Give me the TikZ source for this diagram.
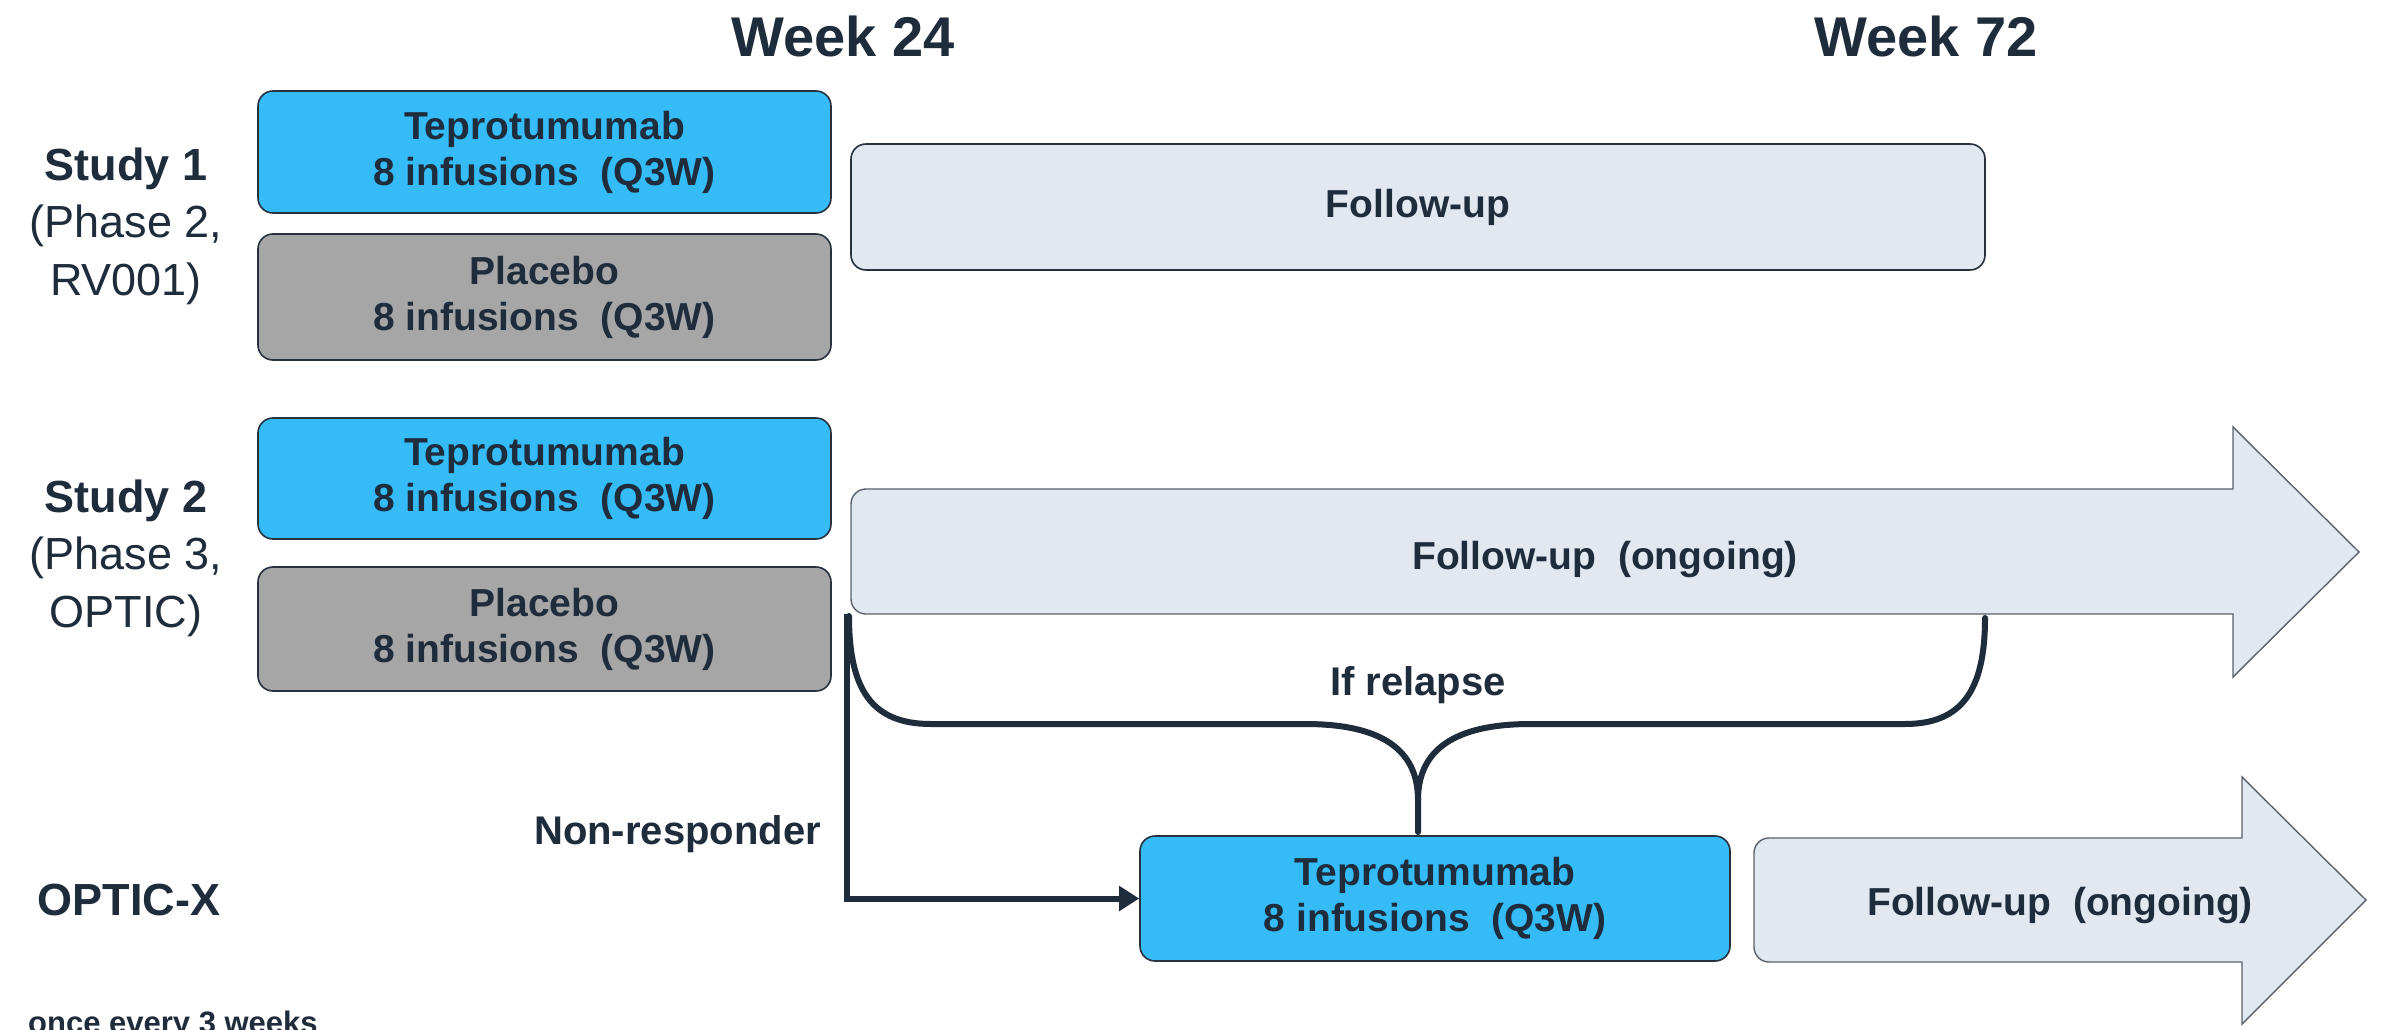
\documentclass[tikz,border=0pt]{standalone}
\usepackage{fontspec}
\setmainfont{Liberation Sans}
\usetikzlibrary{arrows.meta}
\definecolor{tealc}{RGB}{53,188,247}
\definecolor{greyc}{RGB}{166,166,166}
\definecolor{fuc}{RGB}{226,232,240}
\definecolor{txtc}{RGB}{30,44,60}
\definecolor{linec}{RGB}{40,50,62}
\definecolor{arrline}{RGB}{90,98,108}
\newcommand\myboxfont{\bfseries\fontsize{39}{46}\selectfont}
\newcommand\mylabfont{\fontsize{45}{54}\selectfont}
\tikzset{
  box/.style={draw=linec, line width=1.6pt, rounded corners=15pt, inner sep=0pt,
    align=center, font=\myboxfont, text=txtc},
  tealbox/.style={box, fill=tealc},
  greybox/.style={box, fill=greyc},
  fubox/.style={box, fill=fuc},
  fuarrow/.style={draw=arrline, line width=1.4pt, fill=fuc},
  lab/.style={inner sep=0pt, anchor=base, text=txtc},
  conn/.style={draw=txtc, line width=6pt},
}
\begin{document}
\begin{tikzpicture}[x=1pt,y=-1pt]
\useasboundingbox (0,0) rectangle (2382,1030);
\clip (0,0) rectangle (2382,1030);
\fill[white] (0,0) rectangle (2382,1030);

% week headers
\node[lab, font=\bfseries\fontsize{56}{60}\selectfont] (w24) at (843,57) {Week 24};
\node[lab, font=\bfseries\fontsize{56}{60}\selectfont] (w72) at (1926,57) {Week 72};

% study labels
\node[lab, font=\bfseries\mylabfont] (s1a) at (126,180) {Study 1};
\node[lab, font=\mylabfont] (s1b) at (126,237) {(Phase 2,};
\node[lab, font=\mylabfont] (s1c) at (126,295) {RV001)};
\node[lab, font=\bfseries\mylabfont] (s2a) at (126,512) {Study 2};
\node[lab, font=\mylabfont] (s2b) at (126,569) {(Phase 3,};
\node[lab, font=\mylabfont] (s2c) at (126,627) {OPTIC)};
\node[lab, font=\bfseries\mylabfont] (ox) at (129,915) {OPTIC-X};

% study 1
\node[tealbox, minimum width=573pt, minimum height=122pt] (t1) at (544.5,152) {Teprotumumab\\8 infusions\ \ (Q3W)};
\node[greybox, minimum width=573pt, minimum height=126pt] (p1) at (544.5,297) {Placebo\\8 infusions\ \ (Q3W)};
\node[fubox, minimum width=1134pt, minimum height=126pt] (f1) at (1418,207) {Follow-up};

% study 2
\node[tealbox, minimum width=573pt, minimum height=121pt] (t2) at (544.5,478.5) {Teprotumumab\\8 infusions\ \ (Q3W)};
\node[greybox, minimum width=573pt, minimum height=124pt] (p2) at (544.5,629) {Placebo\\8 infusions\ \ (Q3W)};

% follow-up ongoing arrow (study 2)
\path[fuarrow] (866,489) -- (2233,489) -- (2233,427) -- (2359,552) -- (2233,677) -- (2233,614)
  -- (866,614) .. controls (857.7,614) and (851,607.3) .. (851,599)
  -- (851,504) .. controls (851,495.7) and (857.7,489) .. (866,489) -- cycle;
\node[lab, font=\myboxfont] (f2) at (1605,569) {Follow-up\ \ (ongoing)};

% OPTIC-X
\node[tealbox, minimum width=590pt, minimum height=125pt] (t3) at (1435,898.5) {Teprotumumab\\8 infusions\ \ (Q3W)};
\path[fuarrow] (1769,838) -- (2242,838) -- (2242,777) -- (2366,900) -- (2242,1024) -- (2242,962)
  -- (1769,962) .. controls (1760.7,962) and (1754,955.3) .. (1754,947)
  -- (1754,853) .. controls (1754,844.7) and (1760.7,838) .. (1769,838) -- cycle;
\node[lab, font=\myboxfont] (f3) at (2060,915) {Follow-up\ \ (ongoing)};

% brace (if relapse)
\coordinate (bl) at (849,616);
\coordinate (br) at (1985,618);
\coordinate (bm) at (1418,800);
\coordinate (bt) at (1418,832);
\draw[conn, line cap=round] (bl) .. controls (849,690) and (872,724) .. (931,724) -- (1305,724)
   .. controls (1382,724) and (1418,750) .. (bm) -- (bt);
\draw[conn, line cap=round] (bm) .. controls (1418,750) and (1454,724) .. (1531,724) -- (1905,724)
   .. controls (1962,724) and (1985,690) .. (br);
\node[lab, font=\bfseries\fontsize{40}{46}\selectfont] (rel) at (1418,695) {If relapse};

% non-responder connector
\coordinate (nr) at (847,614);
\draw[conn, -{Triangle[length=20pt,width=24pt]}] (nr) |- (t3.west);
\node[lab, font=\bfseries\fontsize{40}{46}\selectfont, anchor=base east] (nrl) at (821,844) {Non-responder};

% footnote
\node[lab, font=\bfseries\fontsize{31}{36}\selectfont, anchor=base west] (fn) at (28,1033) {once every 3 weeks};
\end{tikzpicture}
\end{document}
